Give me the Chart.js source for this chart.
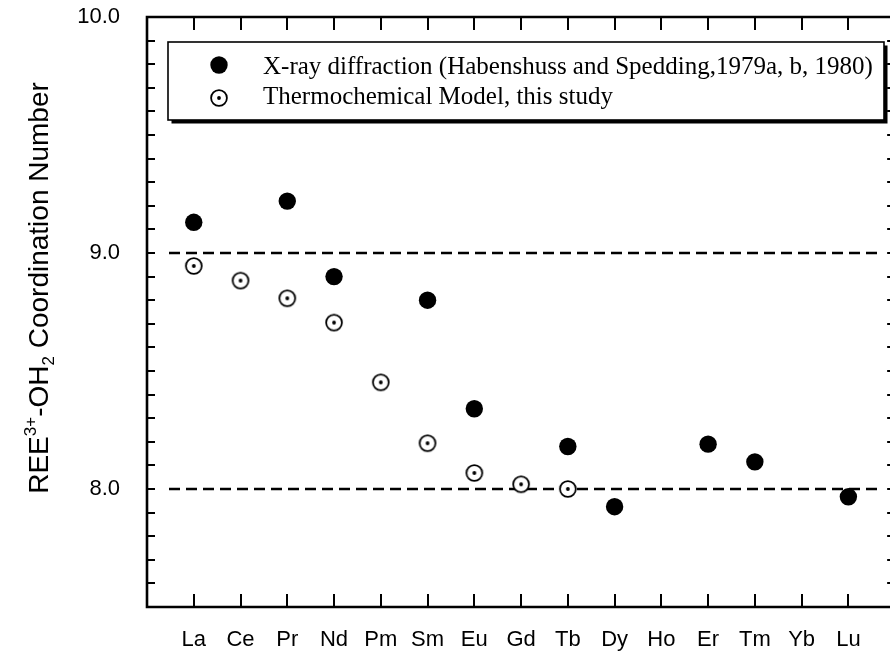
<!DOCTYPE html>
<html><head><meta charset="utf-8">
<script src="https://cdn.jsdelivr.net/npm/chart.js@4"></script>
<style>html,body{margin:0;padding:0;background:#fff}#wrap{width:890px;height:652px}</style>
</head><body><div id="wrap"><canvas id="c" width="890" height="652"></canvas></div>
<script>
const categories = ['La','Ce','Pr','Nd','Pm','Sm','Eu','Gd','Tb','Dy','Ho','Er','Tm','Yb','Lu'];
const xrayValues = [9.13, null, 9.22, 8.90, null, 8.80, 8.34, null, 8.18, 7.925, null, 8.19, 8.115, null, 7.967];
const modelValues = [8.945, 8.883, 8.808, 8.705, 8.452, 8.194, 8.068, 8.02, 8.0, null, null, null, null, null, null];
const yTickLabels = [8.0, 9.0, 10.0];
const referenceLines = [8.0, 9.0];
const seriesLabels = ['X-ray diffraction (Habenshuss and Spedding,1979a, b, 1980)', 'Thermochemical Model, this study'];
const yTitleParts = [['REE', 0], ['3+', 1], ['-OH', 0], ['2', -1], [' Coordination Number', 0]];

function toPoints(arr){ const out=[]; arr.forEach((v,i)=>{ if(v!==null) out.push({x:i,y:v}); }); return out; }

function makeOpenMarker(){
  const c = document.createElement('canvas'); c.width = 22; c.height = 22;
  const g = c.getContext('2d');
  g.beginPath(); g.arc(11,11,7.9,0,Math.PI*2); g.fillStyle='#fff'; g.fill();
  g.lineWidth = 1.8; g.strokeStyle = '#000'; g.stroke();
  g.beginPath(); g.arc(11,11,1.9,0,Math.PI*2); g.fillStyle='#000'; g.fill();
  return c;
}
const openMarker = makeOpenMarker();

const framePlugin = {
  id: 'frame',
  afterLayout(chart){
    const x = chart.scales.x, a = chart.chartArea;
    const target = 890;
    if (Math.abs(x.right - target) > 0.1) {
      x.right = target; x.width = target - x.left; x.configure();
      a.right = target; a.width = target - a.left;
    }
  },
  beforeDatasetsDraw(chart){
    const {ctx, chartArea:a, scales:{x,y}} = chart;
    ctx.save();
    ctx.strokeStyle = '#000'; ctx.lineWidth = 2.6; ctx.setLineDash([11,6]);
    referenceLines.forEach(v => {
      const py = y.getPixelForValue(v);
      ctx.beginPath(); ctx.moveTo(a.left + 22, py); ctx.lineTo(882, py); ctx.stroke();
    });
    ctx.restore();
  },
  afterDatasetsDraw(chart){
    const {ctx, chartArea:a, scales:{x,y}} = chart;
    ctx.save();
    ctx.strokeStyle = '#000'; ctx.lineCap = 'square';
    ctx.lineWidth = 2.6;
    const rightEdge = x.getPixelForValue(15);
    ctx.beginPath();
    ctx.moveTo(rightEdge, a.top); ctx.lineTo(a.left, a.top); ctx.lineTo(a.left, a.bottom); ctx.lineTo(rightEdge, a.bottom);
    ctx.stroke();
    ctx.lineCap = 'butt';
    ctx.lineWidth = 2;
    for (let k = 75; k <= 100; k++) {
      const py = Math.round(y.getPixelForValue(k/10));
      ctx.beginPath(); ctx.moveTo(a.left, py); ctx.lineTo(a.left + 8, py); ctx.stroke();
      ctx.beginPath(); ctx.moveTo(rightEdge - 8, py); ctx.lineTo(rightEdge, py); ctx.stroke();
    }
    categories.forEach((c, i) => {
      const px = Math.round(x.getPixelForValue(i));
      ctx.beginPath(); ctx.moveTo(px, a.top); ctx.lineTo(px, a.top + 13); ctx.stroke();
      ctx.beginPath(); ctx.moveTo(px, a.bottom); ctx.lineTo(px, a.bottom - 13); ctx.stroke();
    });
    // legend
    const lx = 168, ly = 42, lw = 716, lh = 78;
    ctx.fillStyle = '#000'; ctx.fillRect(lx + 3.5, ly + 3.5, lw, lh);
    ctx.fillStyle = '#fff'; ctx.fillRect(lx, ly, lw, lh);
    ctx.lineWidth = 1.6; ctx.strokeRect(lx, ly, lw, lh);
    ctx.fillStyle = '#000';
    ctx.beginPath(); ctx.arc(219, 65, 8.7, 0, Math.PI*2); ctx.fill();
    ctx.drawImage(openMarker, 219 - 11, 98 - 11);
    ctx.font = '25px "Liberation Serif"'; ctx.textBaseline = 'alphabetic'; ctx.textAlign = 'left';
    ctx.fillText(seriesLabels[0], 263, 73.5);
    ctx.fillText(seriesLabels[1], 263, 104);
    // y title
    ctx.translate(48, 288); ctx.rotate(-Math.PI/2);
    const big = 28, small = 17;
    let total = 0;
    yTitleParts.forEach(([t, s]) => { ctx.font = (s ? small : big) + 'px "Liberation Sans"'; total += ctx.measureText(t).width; });
    let cx = -total/2;
    yTitleParts.forEach(([t, s]) => {
      ctx.font = (s ? small : big) + 'px "Liberation Sans"';
      const dy = s === 1 ? -12 : (s === -1 ? 6 : 0);
      ctx.fillText(t, cx, dy);
      cx += ctx.measureText(t).width;
    });
    ctx.restore();
  }
};

new Chart(document.getElementById('c'), {
  type: 'scatter',
  data: {
    datasets: [
      { label: seriesLabels[0], data: toPoints(xrayValues), pointStyle: 'circle', pointRadius: 8.7, backgroundColor: '#000', borderWidth: 0 },
      { label: seriesLabels[1], data: toPoints(modelValues), pointStyle: openMarker, pointRadius: 8, backgroundColor: '#fff', borderColor: '#000' }
    ]
  },
  options: {
    responsive: false, animation: false, devicePixelRatio: 1,
    layout: { padding: { top: 17, right: 0, left: 0, bottom: 0 } },
    plugins: { legend: { display: false }, tooltip: { enabled: false } },
    scales: {
      x: {
        type: 'linear', min: -1, max: 14.89,
        grid: { display: false }, border: { display: false },
        afterBuildTicks: s => { s.ticks = categories.map((c, i) => ({ value: i })); },
        afterFit: s => { s.height = 45; s.paddingLeft = 0; s.paddingRight = 0; },
        ticks: { callback: v => categories[v] ?? '', font: { family: 'Liberation Sans', size: 22 }, color: '#000', padding: 12, maxRotation: 0, autoSkip: false }
      },
      y: {
        min: 7.5, max: 10,
        grid: { display: false }, border: { display: false },
        afterBuildTicks: s => { s.ticks = yTickLabels.map(v => ({ value: v })); },
        afterFit: s => { s.width = 147; s.paddingTop = 0; s.paddingBottom = 0; },
        ticks: { callback: v => Number(v).toFixed(1), font: { family: 'Liberation Sans', size: 22 }, color: '#000', padding: 19 }
      }
    }
  },
  plugins: [framePlugin]
});
</script></body></html>
